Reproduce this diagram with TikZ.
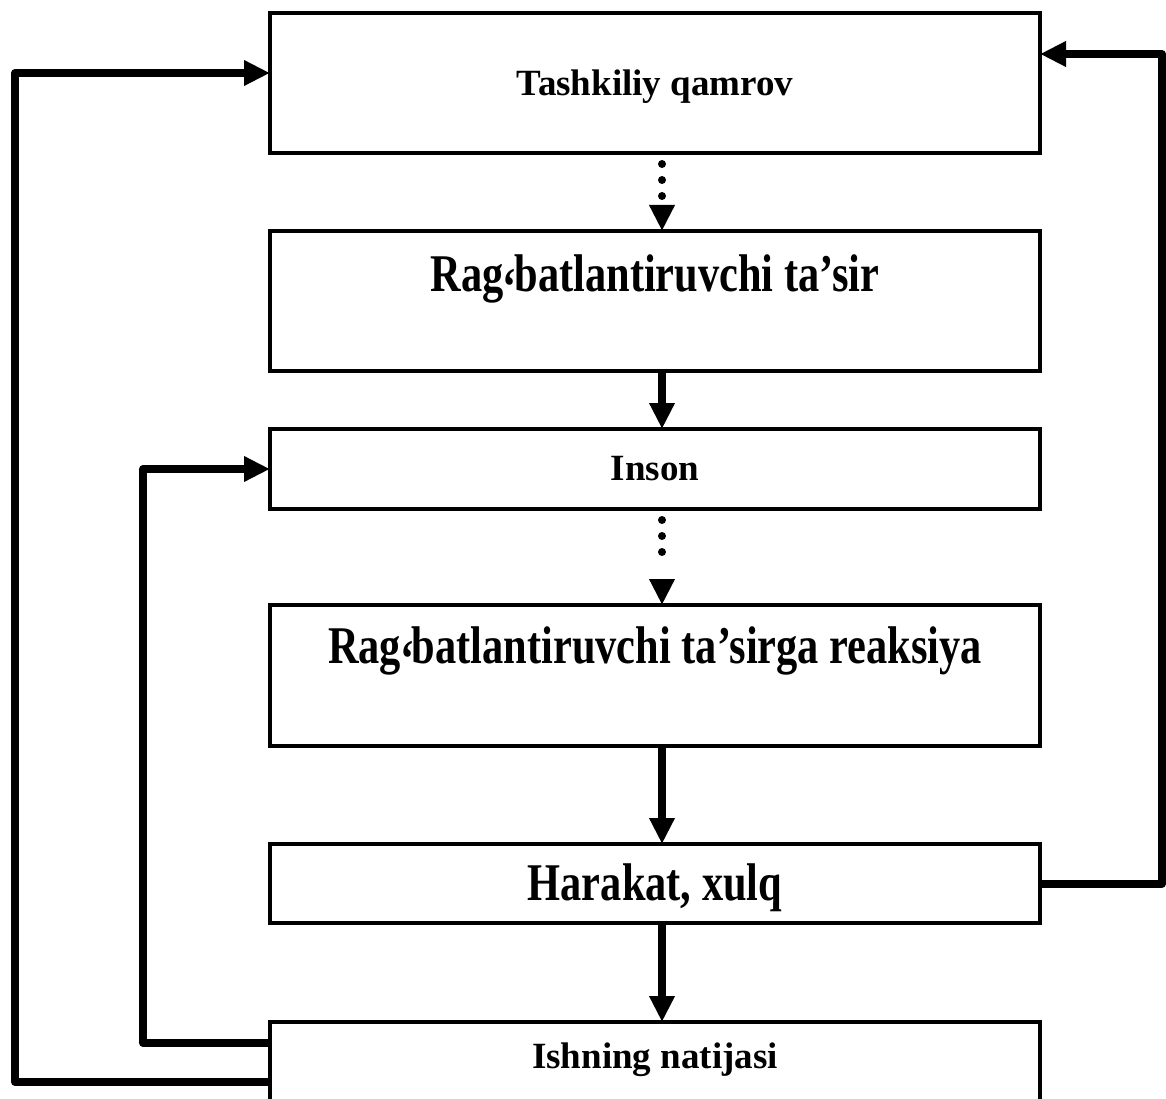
\documentclass[tikz,border=0pt]{standalone}
\usepackage{fontspec}
\setmainfont{Liberation Serif}
\usetikzlibrary{arrows.meta}
% horizontally condensed text for the large captions
\newcommand\xnarrow[1]{\scalebox{0.8}[1]{#1}}
% lowered turned comma used in the Uzbek letter g‘
\newcommand\okina{\kern-1pt\raisebox{-13pt}{‘}\kern-3pt}
\begin{document}
\begin{tikzpicture}[x=1pt,y=-1pt,
  box/.style={draw,line width=3.5pt,rectangle,minimum width=770pt,outer sep=0pt,inner sep=0pt},
  smalltxt/.style={font=\fontsize{37}{40}\selectfont\bfseries,anchor=base,inner sep=0pt},
  bigtxt/.style={font=\fontsize{53}{60}\selectfont\bfseries,anchor=base,inner sep=0pt},
  conn/.style={line width=8pt,-{Triangle[length=26pt,width=24pt]}},
  dotconn/.style={conn,line cap=round,dash pattern=on 0pt off 16pt on 0pt off 16pt on 0pt off 16pt on 0pt off 300pt,dash phase=5pt},
  loopconn/.style={conn,line join=round}]
\clip (0,0) rectangle (1166,1099);

% boxes
\node[box,minimum height=140pt] (b1) at (655,83) {};
\node[box,minimum height=140pt] (b2) at (655,301) {};
\node[box,minimum height=80pt]  (b3) at (655,469) {};
\node[box,minimum height=141pt] (b4) at (655,675.5) {};
\node[box,minimum height=79pt]  (b5) at (655,883.5) {};
\node[box,minimum height=96pt]  (b6) at (655,1070) {};

% captions
\node[smalltxt] (t1) at (655,96)  {Tashkiliy qamrov};
\node[bigtxt]   (t2) at (655,291) {\xnarrow{Rag\okina batlantiruvchi ta’sir}};
\node[smalltxt] (t3) at (655,480) {Inson};
\node[bigtxt]   (t4) at (655,663) {\xnarrow{Rag\okina batlantiruvchi ta’sirga reaksiya}};
\node[bigtxt]   (t5) at (655,900) {\xnarrow{Harakat, xulq}};
\node[smalltxt] (t6) at (655,1068) {Ishning natijasi};

% column of the vertical connectors
\coordinate (ax) at (662,0);

\draw[dotconn] (b1.south -| ax) -- (b2.north -| ax);
\draw[conn]    (b2.south -| ax) -- (b3.north -| ax);
\draw[dotconn] (b3.south -| ax) -- (b4.north -| ax);
\draw[conn]    (b4.south -| ax) -- (b5.north -| ax);
\draw[conn]    (b5.south -| ax) -- (b6.north -| ax);

% feedback loops
\coordinate (lo) at (15,73);
\coordinate (li) at (143,469);
\coordinate (ro) at (1162,54);
\draw[loopconn] (b6.west |- 0,1082) -| (lo) -- (b1.west |- lo);
\draw[loopconn] (b6.west |- 0,1043) -| (li) -- (b3.west);
\draw[loopconn] (b5.east) -| (ro) -- (b1.east |- ro);
\end{tikzpicture}
\end{document}
